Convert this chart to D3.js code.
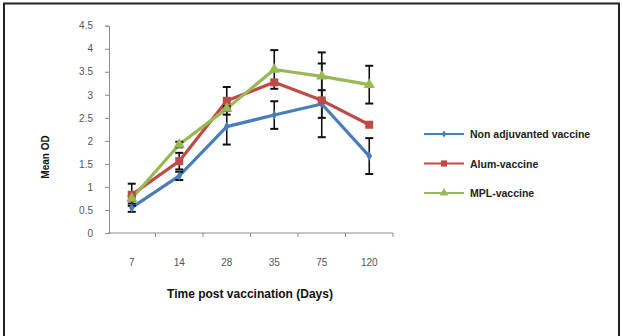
<!DOCTYPE html>
<html>
<head>
<meta charset="utf-8">
<script src="https://cdn.jsdelivr.net/npm/d3@7"></script>
<style>
  body { margin: 0; background: #fff; }
  svg { display: block; }
</style>
</head>
<body>
<svg width="622" height="336"></svg>
<script>

// chart data
const days = ['7', '14', '28', '35', '75', '120'];
const seriesNames = ['Non adjuvanted vaccine', 'Alum-vaccine', 'MPL-vaccine'];
const nonAdjuvanted = [0.55, 1.24, 2.31, 2.56, 2.80, 1.67];
const alum = [0.83, 1.56, 2.87, 3.27, 2.88, 2.35];
const mpl = [0.75, 1.92, 2.70, 3.55, 3.40, 3.22];
const nonAdjuvantedErr = [0.09, 0.09, 0.39, 0.30, 0.30, 0.39];
const alumErr = [0.24, 0.18, 0.30, 0, 0.80, 0];
const mplErr = [0.05, 0.06, 0.05, 0.42, 0.52, 0.41];
const yTicks = [0, 0.5, 1, 1.5, 2, 2.5, 3, 3.5, 4, 4.5];

const colors = ['#4a7ebb', '#be4b48', '#98b954'];
const markers = [d3.symbolDiamond, d3.symbolSquare, d3.symbolTriangle];
const markerSizes = [26, 64, 54];

const series = seriesNames.map((name, i) => ({
    name: name,
    values: [nonAdjuvanted, alum, mpl][i],
    err: [nonAdjuvantedErr, alumErr, mplErr][i],
    color: colors[i],
    marker: markers[i],
    size: markerSizes[i]
}));

const svg = d3.select('svg');

// outer frame
svg.append('path')
    .attr('d', 'M4,340 V3.5 H619 V340')
    .attr('fill', 'none')
    .attr('stroke', '#222')
    .attr('stroke-width', 2);

// scales
const x = d3.scaleBand()
    .domain(days)
    .range([108, 393]);

const y = d3.scaleLinear()
    .domain([0, 4.5])
    .range([233, 25.7]);

const axisColor = '#8c8c8c';
const tickFont = '"Liberation Sans", Arial, sans-serif';

// y axis
const yAxis = d3.axisLeft(y)
    .tickValues(yTicks)
    .tickFormat(d3.format('~g'))
    .tickSize(4)
    .tickPadding(12);

const yAxisG = svg.append('g')
    .attr('transform', 'translate(109,0)')
    .call(yAxis);
yAxisG.select('.domain').attr('stroke', axisColor);
yAxisG.selectAll('.tick line').attr('stroke', axisColor);
yAxisG.selectAll('.tick text')
    .attr('fill', '#555')
    .style('font-family', tickFont)
    .style('font-size', '10px');

// x axis
const xAxisG = svg.append('g')
    .attr('transform', `translate(0,${y(0)})`);
xAxisG.append('line')
    .attr('x1', x.range()[0])
    .attr('x2', x.range()[1])
    .attr('stroke', axisColor);
xAxisG.selectAll('.xtick')
    .data(days.slice(1).concat(['end']))
    .enter().append('line')
        .attr('x1', (d, i) => x(days[0]) + x.step() * (i + 1))
        .attr('x2', (d, i) => x(days[0]) + x.step() * (i + 1))
        .attr('y1', 0)
        .attr('y2', 4)
        .attr('stroke', axisColor);
xAxisG.selectAll('.xlabel')
    .data(days)
    .enter().append('text')
        .attr('x', d => x(d) + x.bandwidth() / 2)
        .attr('y', 33)
        .attr('text-anchor', 'middle')
        .attr('fill', '#555')
        .style('font-family', tickFont)
        .style('font-size', '10px')
        .text(d => d);

// axis titles
svg.append('text')
    .attr('x', 250)
    .attr('y', 298)
    .attr('text-anchor', 'middle')
    .style('font-family', tickFont)
    .style('font-size', '12px')
    .style('font-weight', 'bold')
    .attr('fill', '#111')
    .text('Time  post vaccination (Days)');

svg.append('text')
    .attr('transform', 'translate(49,157) rotate(-90)')
    .attr('text-anchor', 'middle')
    .style('font-family', tickFont)
    .style('font-size', '10px')
    .style('font-weight', 'bold')
    .attr('fill', '#111')
    .text('Mean OD');

// lines
const line = d3.line()
    .x((d, i) => x(days[i]) + x.bandwidth() / 2)
    .y(d => y(d));

svg.selectAll('.series-line')
    .data(series)
    .enter().append('path')
        .attr('class', 'series-line')
        .attr('d', d => line(d.values))
        .attr('fill', 'none')
        .attr('stroke', d => d.color)
        .attr('stroke-width', 3.2)
        .attr('stroke-linejoin', 'round');

// error bars
series.forEach(s => {
    const g = svg.append('g');
    s.values.forEach((v, i) => {
        if (!s.err[i]) return;
        const cx = x(days[i]) + x.bandwidth() / 2;
        const top = y(v + s.err[i]);
        const bot = y(v - s.err[i]);
        g.append('line')
            .attr('x1', cx).attr('x2', cx)
            .attr('y1', top).attr('y2', bot)
            .attr('stroke', '#111').attr('stroke-width', 1.6);
        [top, bot].forEach(yy => {
            g.append('line')
                .attr('x1', cx - 4).attr('x2', cx + 4)
                .attr('y1', yy).attr('y2', yy)
                .attr('stroke', '#111').attr('stroke-width', 2);
        });
    });
});

// markers
series.forEach(s => {
    svg.append('g').selectAll('path')
        .data(s.values)
        .enter().append('path')
            .attr('transform', (d, i) => `translate(${x(days[i]) + x.bandwidth() / 2},${y(d)})`)
            .attr('d', d3.symbol().type(s.marker).size(s.size))
            .attr('fill', s.color);
});

// legend
const legend = svg.append('g')
    .attr('transform', 'translate(424,134)');

const legendRows = legend.selectAll('g')
    .data(series)
    .enter().append('g')
        .attr('transform', (d, i) => `translate(0,${i * 29.5})`);

legendRows.append('line')
    .attr('x1', 0).attr('x2', 40)
    .attr('stroke', d => d.color)
    .attr('stroke-width', 2.2);

legendRows.append('path')
    .attr('transform', 'translate(20,0)')
    .attr('d', d => d3.symbol().type(d.marker).size(d.size * 0.6)())
    .attr('fill', d => d.color);

legendRows.append('text')
    .attr('x', 46)
    .attr('y', 4)
    .style('font-family', tickFont)
    .style('font-size', '10.5px')
    .style('font-weight', 'bold')
    .attr('fill', '#222')
    .text(d => d.name);

</script>
</body>
</html>
